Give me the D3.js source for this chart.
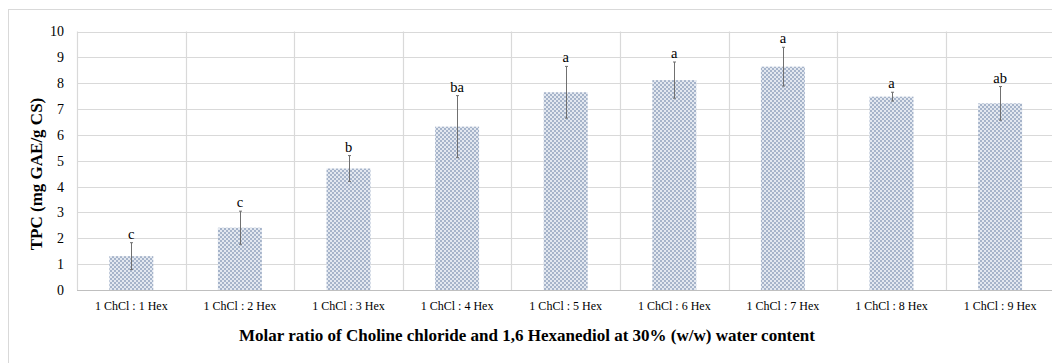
<!DOCTYPE html>
<html>
<head>
<meta charset="utf-8">
<script src="https://cdn.jsdelivr.net/npm/d3@7"></script>
<style>
  body { margin: 0; background: #fff; }
  text { font-family: "Liberation Serif", "Times New Roman", serif; }
</style>
</head>
<body>
<svg id="chart" width="1052" height="363"></svg>
<script>
// data
var categories = ["1 ChCl : 1 Hex", "1 ChCl : 2 Hex", "1 ChCl : 3 Hex", "1 ChCl : 4 Hex", "1 ChCl : 5 Hex",
                  "1 ChCl : 6 Hex", "1 ChCl : 7 Hex", "1 ChCl : 8 Hex", "1 ChCl : 9 Hex"];
var tpc = [1.31, 2.41, 4.70, 6.32, 7.65, 8.12, 8.64, 7.48, 7.22];
var sd = [0.52, 0.64, 0.50, 1.20, 1.00, 0.70, 0.75, 0.17, 0.65];
var letters = ["c", "c", "b", "ba", "a", "a", "a", "a", "ab"];
var yTicks = [0, 1, 2, 3, 4, 5, 6, 7, 8, 9, 10];

(function() {
  var svg = d3.select("#chart");
  var plotL = 77, plotT = 31.5, plotB = 290, plotR = 77 + 9 * 108.6;

  // pattern fill for the bars
  var pat = svg.append("defs").append("pattern")
    .attr("id", "checker").attr("width", 4).attr("height", 4)
    .attr("patternUnits", "userSpaceOnUse");
  pat.append("rect").attr("width", 4).attr("height", 4).attr("fill", "#e3e8f0");
  pat.append("rect").attr("width", 2).attr("height", 2).attr("fill", "#a6b4ca");
  pat.append("rect").attr("x", 2).attr("y", 2).attr("width", 2).attr("height", 2).attr("fill", "#a6b4ca");

  // outer chart border
  svg.append("rect").attr("x", 8.5).attr("y", 9.5).attr("width", 1100).attr("height", 400)
    .attr("fill", "none").attr("stroke", "#d9d9d9");

  var x = d3.scaleBand().domain(categories).range([plotL, plotR]).paddingInner(0.595).paddingOuter(0.2975);
  var y = d3.scaleLinear().domain([0, 10]).range([plotB, plotT]);

  // horizontal grid
  svg.append("g").selectAll("line").data(yTicks.slice(1)).enter().append("line")
    .attr("x1", plotL).attr("x2", plotR)
    .attr("y1", function(d) { return Math.round(y(d)) + 0.5; })
    .attr("y2", function(d) { return Math.round(y(d)) + 0.5; })
    .attr("stroke", "#d9d9d9").attr("stroke-width", 1.2);

  // vertical grid at category boundaries
  var bounds = d3.range(categories.length + 1).map(function(i) { return plotL + i * x.step(); });
  svg.append("g").selectAll("line").data(bounds).enter().append("line")
    .attr("x1", function(d) { return Math.round(d) + 0.5; })
    .attr("x2", function(d) { return Math.round(d) + 0.5; })
    .attr("y1", plotT).attr("y2", plotB)
    .attr("stroke", "#d9d9d9").attr("stroke-width", 1.2);

  // bars
  svg.append("g").selectAll("rect").data(tpc).enter().append("rect")
    .attr("x", function(d, i) { return x(categories[i]); })
    .attr("y", function(d) { return y(d); })
    .attr("width", x.bandwidth())
    .attr("height", function(d) { return plotB - y(d); })
    .attr("fill", "url(#checker)");

  // baseline
  svg.append("line").attr("x1", plotL).attr("x2", plotR)
    .attr("y1", plotB + 0.5).attr("y2", plotB + 0.5)
    .attr("stroke", "#bfbfbf").attr("stroke-width", 1.2);

  // error bars
  var eb = svg.append("g").attr("stroke", "#707070").attr("stroke-width", 1);
  tpc.forEach(function(v, i) {
    var cx = Math.round(x(categories[i]) + x.bandwidth() / 2) + 0.5;
    eb.append("line").attr("x1", cx).attr("x2", cx).attr("y1", y(v + sd[i])).attr("y2", y(v - sd[i]));
    eb.append("line").attr("x1", cx - 1.5).attr("x2", cx + 1.5).attr("y1", y(v + sd[i])).attr("y2", y(v + sd[i]));
    eb.append("line").attr("x1", cx - 1.5).attr("x2", cx + 1.5).attr("y1", y(v - sd[i])).attr("y2", y(v - sd[i]));
  });

  // significance letters
  svg.append("g").selectAll("text").data(letters).enter().append("text")
    .attr("x", function(d, i) { return x(categories[i]) + x.bandwidth() / 2; })
    .attr("y", function(d, i) { return y(tpc[i] + sd[i]) - 4; })
    .attr("text-anchor", "middle").attr("font-size", 14.5).attr("fill", "#000")
    .text(function(d) { return d; });

  // y axis labels
  var yAxis = d3.axisLeft(y).tickValues(yTicks).tickSize(0).tickPadding(13);
  svg.append("g").attr("transform", "translate(" + plotL + ",0)").call(yAxis)
    .call(function(g) { g.select(".domain").remove(); })
    .selectAll("text").attr("font-size", 14).attr("fill", "#000")
    .style("font-family", "Liberation Serif, serif");

  // x axis labels
  var xAxis = d3.axisBottom(x).tickSize(0).tickPadding(11);
  svg.append("g").attr("transform", "translate(0," + plotB + ")").call(xAxis)
    .call(function(g) { g.select(".domain").remove(); })
    .selectAll("text").attr("font-size", 12).attr("fill", "#000")
    .style("font-family", "Liberation Serif, serif");

  // axis titles
  svg.append("text").attr("x", 527).attr("y", 341).attr("text-anchor", "middle")
    .attr("font-size", 17).attr("font-weight", "bold").attr("fill", "#000")
    .text("Molar ratio of Choline chloride and 1,6 Hexanediol at 30% (w/w) water content");
  svg.append("text").attr("transform", "translate(42,174) rotate(-90)").attr("text-anchor", "middle")
    .attr("font-size", 17).attr("font-weight", "bold").attr("fill", "#000")
    .text("TPC (mg GAE/g CS)");
})();
</script>
</body>
</html>
